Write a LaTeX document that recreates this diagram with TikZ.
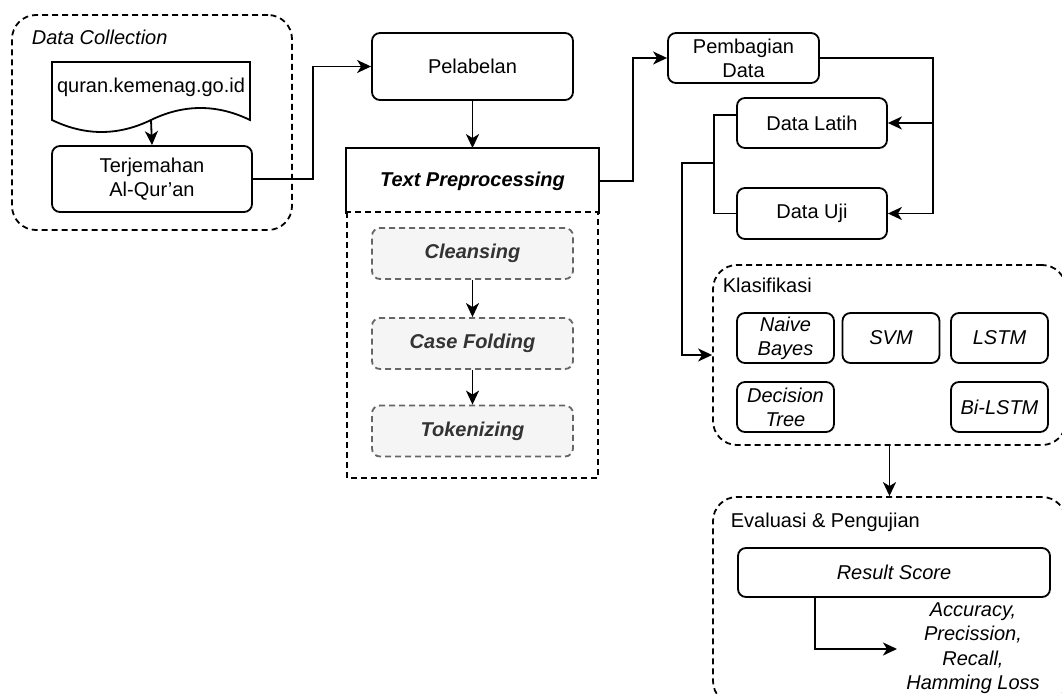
\documentclass[tikz,border=0pt]{standalone}
\usepackage{fontspec}
\setmainfont{Liberation Sans}
\usetikzlibrary{arrows.meta,calc}
\definecolor{stepfill}{HTML}{F5F5F5}
\definecolor{stepline}{HTML}{666666}
\definecolor{steptext}{HTML}{333333}
\begin{document}
\begin{tikzpicture}[x=0.5pt,y=-0.5pt,
  font=\fontsize{10}{12}\selectfont,
  line width=0.9pt,
  box/.style={draw, rounded corners=4pt, align=center, inner sep=0pt},
  group/.style={draw, rounded corners=12pt, dash pattern=on 3pt off 2pt, inner sep=0pt},
  stepbox/.style={draw=stepline, fill=stepfill, rounded corners=4pt, dash pattern=on 3pt off 2pt,
    text=steptext, font=\fontsize{10}{12}\selectfont\bfseries\itshape, inner sep=0pt,
    minimum width=100.5pt, minimum height=25.5pt},
  algo/.style={box, font=\fontsize{10}{12}\selectfont\itshape, minimum width=48.5pt, minimum height=25pt},
  lbl/.style={anchor=west, inner sep=0pt},
  arr/.style={-{Stealth[length=7pt,width=6.5pt,inset=2pt]}}
]
\useasboundingbox (0,0) rectangle (1062,695);
\clip (0,0) rectangle (1062,695);
\fill[white] (0,0) rectangle (1062,695);

% ---- Data Collection ----
\node[group, minimum width=140pt, minimum height=107.5pt] (dc) at (152,122.5) {};
\node[lbl, font=\fontsize{10}{12}\selectfont\itshape] (dclbl) at (31,37) {Data Collection};
\draw (52,120) -- (52,62) -- (250,62) -- (250,120)
  .. controls (217,104) and (184,104) .. (151,120)
  .. controls (118,136) and (85,136) .. (52,120) -- cycle;
\node[inner sep=0pt] (src) at (151,87) {quran.kemenag.go.id};
\coordinate (srcbot) at (151,120);
\node[box, minimum width=100pt, minimum height=33pt] (terj) at (152,179) {Terjemahan\\Al-Qur'an};
\draw[arr] (srcbot) -- (terj.north);

% ---- Pelabelan and Text Preprocessing ----
\node[box, minimum width=100.5pt, minimum height=33.5pt] (pel) at (472.5,66.5) {Pelabelan};
\draw[dash pattern=on 3pt off 2pt] (347,212) rectangle (598,478);
\node[inner sep=0pt, minimum width=125.5pt, minimum height=32pt,
  font=\fontsize{10}{12}\selectfont\bfseries\itshape] (tph) at (472.5,181) {Text Preprocessing};
\draw (tph.south west) |- (tph.north east) -- (tph.south east);
\node[stepbox] (cl) at (472.5,253.5) {Cleansing};
\node[stepbox] (cf) at (472.5,343.5) {Case Folding};
\node[stepbox] (tk) at (472.5,431) {Tokenizing};
\draw[arr] (cl) -- (cf);
\draw[arr] (cf) -- (tk);

\draw[arr] (terj.east) -- ++(60,0) |- (pel.west);
\draw[arr] (pel.south) -- (tph.north);

% ---- Pembagian Data ----
\node[box, minimum width=75.5pt, minimum height=25pt] (pemb) at (743.5,58) {Pembagian\\Data};
\node[box, minimum width=75pt, minimum height=25pt] (latih) at (812,123) {Data Latih};
\node[box, minimum width=75pt, minimum height=25.5pt] (uji) at (812,213.5) {Data Uji};
\draw[arr] (tph.east) -- ++(34,0) |- (pemb.west);
\coordinate (xr) at (933,58);
\draw[arr] (pemb.east) -- (xr) |- (uji.east);
\draw[arr] (latih.east -| xr) -- (latih.east);
\draw ($(latih.west)+(0,-8)$) -- ++(-22,0) |- (uji.west);
\coordinate (jx) at (715,163);

% ---- Klasifikasi ----
\node[group, minimum width=176.5pt, minimum height=90pt] (klas) at (889.5,355) {};
\node[lbl] (klaslbl) at (722,285) {Klasifikasi};
\node[algo] (nb) at (785.5,338) {Naive\\Bayes};
\node[algo] (svm) at (891,338) {SVM};
\node[algo] (lstm) at (999.5,338) {LSTM};
\node[algo] (dt) at (785.5,407) {Decision\\Tree};
\node[algo] (bil) at (999.5,407) {Bi-LSTM};
\draw[arr] (jx) -- ++(-33,0) |- (klas.west);

% ---- Evaluasi & Pengujian ----
\node[group, minimum width=176.5pt, minimum height=104pt] (ev) at (889.5,601) {};
\node[lbl] (evlbl) at (730,522) {Evaluasi \& Pengujian};
\node[box, minimum width=156pt, minimum height=24.5pt, font=\fontsize{10}{12}\selectfont\itshape] (rs) at (894,572.5) {Result Score};
\node[align=center, inner sep=0pt, font=\fontsize{10}{12.2}\selectfont\itshape] (met) at (973,648)
  {Accuracy,\\Precission,\\Recall,\\Hamming Loss};
\draw[arr] (klas.south) -- (ev.north);
\coordinate (rsb) at ($(rs.south west)+(78,0)$);
\coordinate (mt) at (897,649);
\draw[arr] (rsb) |- (mt);
\end{tikzpicture}
\end{document}
